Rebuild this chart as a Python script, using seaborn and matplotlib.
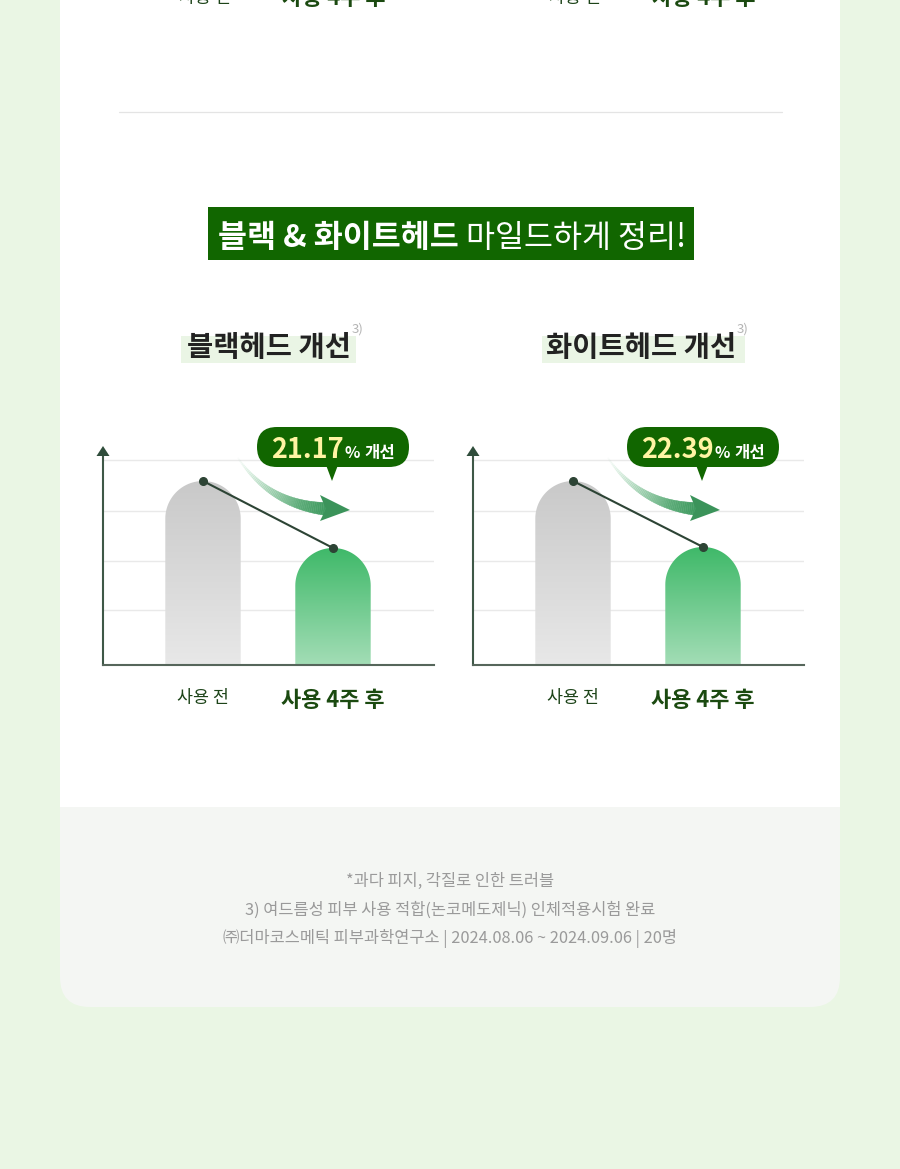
import matplotlib
matplotlib.use("Agg")
import matplotlib.pyplot as plt
import seaborn as sns
import numpy as np
import pandas as pd
from matplotlib.patches import Rectangle, FancyBboxPatch, Polygon, PathPatch
from matplotlib.path import Path
from matplotlib.collections import PolyCollection
import matplotlib.colors as mcolors

# ---------------- data ----------------
categories = ["사용 전", "사용 4주 후"]
blackhead_values = [3.68, 2.34]
whitehead_values = [3.68, 2.36]
improvement_pct = ["21.17", "22.39"]
chart_titles = ["블랙헤드 개선", "화이트헤드 개선"]
grid_levels = [1.1, 2.08, 3.08, 4.1]
headline_bold = "블랙 & 화이트헤드"
headline_regular = "마일드하게 정리!"
footnotes = [
    "*과다 피지, 각질로 인한 트러블",
    "3) 여드름성 피부 사용 적합(논코메도제닉) 인체적용시험 완료",
    "㈜더마코스메틱 피부과학연구소 | 2024.08.06 ~ 2024.09.06 | 20명",
]

# ---------------- setup ----------------
sns.set_theme(style="white")
plt.rcParams["font.family"] = ["Noto Sans CJK KR", "DejaVu Sans"]

W, H = 900, 1169
fig = plt.figure(figsize=(9, 11.69), dpi=100)
fig.patch.set_facecolor("#EAF6E4")
renderer = fig.canvas.get_renderer()

bg = fig.add_axes([0, 0, 1, 1])
bg.set_xlim(0, W); bg.set_ylim(H, 0); bg.axis("off"); bg.set_zorder(0)
bg.patch.set_alpha(0)

# white card and footer
bg.add_patch(Rectangle((60, -10), 780, 817, fc="white", ec="none"))
bg.add_patch(FancyBboxPatch((60, 807), 780, 200,
                            boxstyle="round,pad=0,rounding_size=30",
                            fc="#F4F6F3", ec="none"))
bg.add_patch(Rectangle((60, 807), 780, 40, fc="#F4F6F3", ec="none"))
bg.plot([119, 782], [112, 112], color="#e4e4e4", lw=0.9)


def place_runs(ax, runs, cx, y, va="baseline"):
    """runs: list of (text, kwargs, gap_after). centred horizontally at cx."""
    texts, widths = [], []
    for txt, kw, gap in runs:
        t = ax.text(0, y, txt, ha="left", va=va, **kw)
        texts.append((t, gap))
        widths.append(t.get_window_extent(renderer).width)
    total = sum(widths) + sum(g for _, g in texts[:-1])
    x = cx - total / 2
    for (t, gap), w in zip(texts, widths):
        t.set_x(x)
        x += w + gap
    return cx - total / 2, x


# labels of a chart above, cut by the top edge (as in the reference)
for x0 in [103, 473]:
    bg.text(x0 + 102, 3, categories[0], ha="center", va="baseline",
            fontsize=12.5, color="#1d4419")
    bg.text(x0 + 231, 5, categories[1], ha="center", va="baseline",
            fontsize=15.8, fontweight="bold", color="#1b4a10")

# headline box
bg.add_patch(Rectangle((208, 207), 486, 53, fc="#116600", ec="none"))
place_runs(bg, [(headline_bold, dict(fontsize=22.7, fontweight="bold", color="white"), 7),
                (headline_regular, dict(fontsize=22.7, color="white"), 0)],
           452, 247)

# subtitles
sub_boxes = [(181, 175), (542, 203)]
sub_cx = [269, 641]
for title, (bx, bw), cx in zip(chart_titles, sub_boxes, sub_cx):
    bg.add_patch(Rectangle((bx, 336), bw, 27, fc="#EAF5E5", ec="none"))
    t = bg.text(cx, 356, title, ha="center", va="baseline", fontsize=20.5,
                fontweight="bold", color="#222222")
    ext = t.get_window_extent(renderer)
    bg.text(ext.x1 + 1, 333, "3)", ha="left", va="baseline", fontsize=9.5,
            color="#b4b4b4")

# footer notes
for i, line in enumerate(footnotes):
    bg.text(450, 886 + i * 28.5, line, ha="center", va="baseline",
            fontsize=11.8, color="#9a9a9a")

# overlay for annotations
ov = fig.add_axes([0, 0, 1, 1])
ov.set_xlim(0, W); ov.set_ylim(H, 0); ov.axis("off"); ov.set_zorder(10)
ov.patch.set_alpha(0)

gray_top, gray_bot = mcolors.to_rgba("#c9c9c9"), mcolors.to_rgba("#e8e8e8")
green_top, green_bot = mcolors.to_rgba("#3fb969"), mcolors.to_rgba("#a3ddb6")

datasets = [blackhead_values, whitehead_values]
for ci, (x0, vals, pct) in enumerate(zip([103, 473], datasets, improvement_pct)):
    ax = fig.add_axes([x0 / W, (H - 665) / H, 331 / W, 210 / H])
    ax.set_zorder(5)
    ax.patch.set_alpha(0)
    df = pd.DataFrame({"stage": categories, "value": vals})
    sns.barplot(data=df, x="stage", y="value", ax=ax, width=0.58,
                color="#cccccc", errorbar=None)
    ax.set_xlim(-100 / 130, 231 / 130)
    ax.set_ylim(0, 4.2)
    ax.set_yticks(grid_levels)
    ax.yaxis.grid(True, color="#e9e9e9", lw=1.0)
    ax.xaxis.grid(False)
    ax.set_axisbelow(True)
    ax.tick_params(axis="y", length=0, labelleft=False)
    ax.tick_params(axis="x", length=0, pad=17)
    ax.set_xlabel(""); ax.set_ylabel("")
    sns.despine(ax=ax)
    ax.spines["left"].set_color("#3e5847"); ax.spines["left"].set_linewidth(1.5)
    ax.spines["bottom"].set_color("#56665b"); ax.spines["bottom"].set_linewidth(1.5)

    labs = ax.get_xticklabels()
    labs[0].set_fontsize(12.5); labs[0].set_color("#1d4419")
    labs[1].set_fontsize(15.8); labs[1].set_fontweight("bold"); labs[1].set_color("#1b4a10")

    # rounded gradient bars
    inv = ax.transData.inverted()
    for bi, p in enumerate(list(ax.patches)):
        bx, bw, bh = p.get_x(), p.get_width(), p.get_height()
        p.set_visible(False)
        (xl, yb) = ax.transData.transform((bx, 0))
        (xr, yt) = ax.transData.transform((bx + bw, bh))
        r = (xr - xl) / 2
        th = np.linspace(np.pi, 0, 60)
        arc = np.column_stack([xl + r + r * np.cos(th), yt - r + r * np.sin(th)])
        pts = np.vstack([[xl, yb], [xl, yt - r], arc, [xr, yt - r], [xr, yb], [xl, yb]])
        pts = inv.transform(pts)
        clip = PathPatch(Path(pts, closed=True), fc="none", ec="none",
                         transform=ax.transData)
        ax.add_patch(clip)
        top, bot = (gray_top, gray_bot) if bi == 0 else (green_top, green_bot)
        s = np.linspace(0, 1, 200)[:, None]
        grad = (1 - s) * np.array(top) + s * np.array(bot)
        im = ax.imshow(grad[:, None, :], extent=[bx, bx + bw, 0, bh],
                       origin="upper", aspect="auto", zorder=1.5,
                       interpolation="bilinear")
        im.set_clip_path(clip)
    ax.set_xlim(-100 / 130, 231 / 130)
    ax.set_ylim(0, 4.2)

    ax.plot([0, 1], vals, color="#2d4435", lw=1.5, marker="o", ms=5.5,
            zorder=6, clip_on=False)

    # y axis arrow head
    ov.add_patch(Polygon([(x0 - 6.5, 456), (x0 + 6.5, 456), (x0, 446)],
                         closed=True, fc="#2f4d3b", ec="none"))

    # curved gradient arrow
    P0 = np.array([x0 + 135, 458.0])
    P1 = np.array([x0 + 167, 505.0])
    P2 = np.array([x0 + 224, 509.0])
    t = np.linspace(0, 1, 60)
    curve = ((1 - t)[:, None] ** 2) * P0 + (2 * (1 - t) * t)[:, None] * P1 + (t[:, None] ** 2) * P2
    d = np.gradient(curve, axis=0)
    nrm = np.column_stack([-d[:, 1], d[:, 0]])
    nrm /= np.linalg.norm(nrm, axis=1)[:, None]
    half = (0.5 + 6.0 * t ** 1.1)[:, None]
    left, right = curve + nrm * half, curve - nrm * half
    quads, cols = [], []
    c_end = np.array(mcolors.to_rgb("#3d995e"))
    c_start = np.array(mcolors.to_rgb("#b9e3c6"))
    for k in range(len(t) - 1):
        quads.append([left[k], left[k + 1], right[k + 1], right[k]])
        tt = t[k]
        c = (1 - tt) * c_start + tt * c_end
        cols.append((*c, min(1.0, 0.05 + 1.3 * tt)))
    ov.add_collection(PolyCollection(quads, facecolors=cols, edgecolors=cols,
                                     linewidths=0.3))
    ov.add_patch(Polygon([(x0 + 217, 495), (x0 + 247, 510), (x0 + 217, 521),
                          (x0 + 223, 509)], closed=True, fc="#3b935a", ec="none"))

    # bubble
    ov.add_patch(FancyBboxPatch((x0 + 154, 427), 152, 40,
                                boxstyle="round,pad=0,rounding_size=20",
                                fc="#116600", ec="none"))
    ov.add_patch(Polygon([(x0 + 223, 465), (x0 + 235, 465), (x0 + 229, 481)],
                         closed=True, fc="#116600", ec="none"))
    place_runs(ov, [(pct, dict(fontsize=19.5, fontweight="bold", color="#FFF4A3"), 1),
                    ("%", dict(fontsize=11.5, fontweight="bold", color="white"), 4),
                    ("개선", dict(fontsize=12, fontweight="bold", color="white"), 0)],
               x0 + 230, 458)

fig.savefig("out.png", dpi=100, facecolor=fig.get_facecolor())
